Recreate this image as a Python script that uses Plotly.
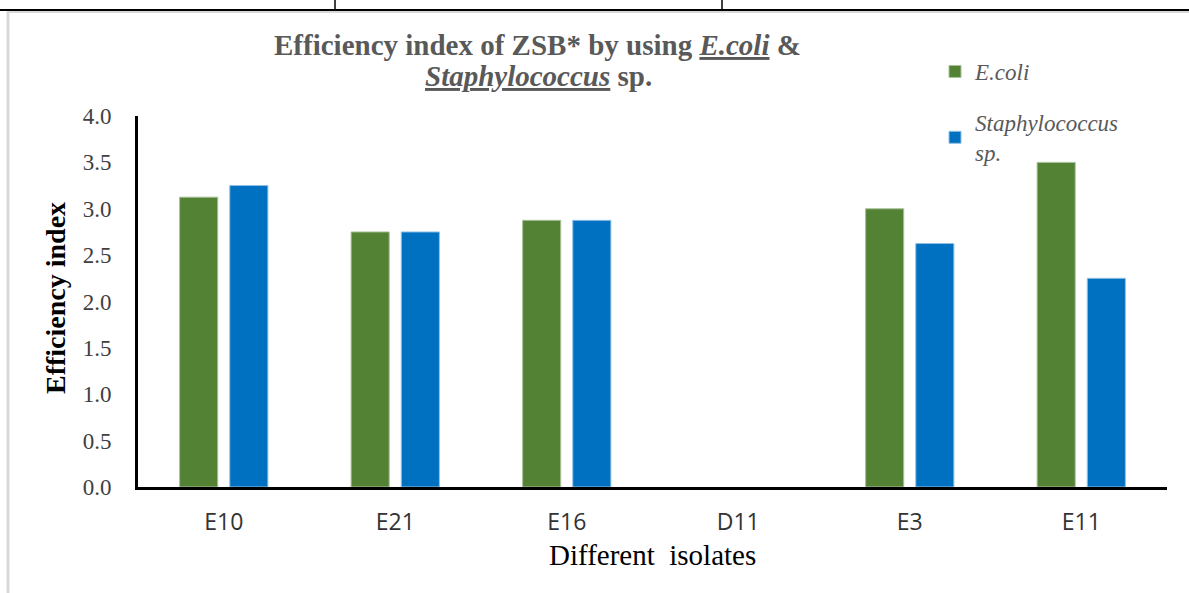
import plotly.graph_objects as go

# Data
isolates = ['E10', 'E21', 'E16', 'D11', 'E3', 'E11']
ecoli = [3.125, 2.75, 2.875, None, 3.0, 3.5]
staph = [3.25, 2.75, 2.875, None, 2.625, 2.25]
y_ticks = [0.0, 0.5, 1.0, 1.5, 2.0, 2.5, 3.0, 3.5, 4.0]

serif = 'Liberation Serif, Times New Roman, serif'
gray = '#595959'

# plot area in page pixels
L, R, T, B = 138, 1167, 116, 487
W, H = R - L, B - T


def px_x(x):
    return (x - L) / W


def px_y(y):
    return (B - y) / H


fig = go.Figure()
fig.add_trace(go.Bar(
    x=isolates, y=ecoli, name='E.coli',
    marker=dict(color='#548235', line=dict(color='#a9c19a', width=1)),
    legendgroup='a',
))
fig.add_trace(go.Bar(
    x=isolates, y=staph, name='Staphylococcus<br>sp.',
    marker=dict(color='#0070C0', line=dict(color='#8fc1e6', width=1)),
    legendgroup='b',
))

fig.update_layout(
    width=1189, height=593,
    paper_bgcolor='white', plot_bgcolor='white',
    margin=dict(l=L, r=1189 - R, t=T, b=593 - B),
    barmode='group', bargap=0.415, bargroupgap=0.24,
    legend=dict(x=px_x(935), y=px_y(50), xanchor='left', yanchor='top',
                font=dict(family=serif, size=23, color=gray, style='italic'),
                tracegroupgap=18, bgcolor='rgba(0,0,0,0)',
                itemwidth=30),
    showlegend=True,
)

# chart title, two lines
fig.add_annotation(
    text='<b>Efficiency index of ZSB* by using '
         '<span style="text-decoration:underline"><i>E.coli</i></span> &amp;</b>',
    xref='paper', yref='paper', x=px_x(537), y=px_y(45),
    xanchor='center', yanchor='middle', showarrow=False,
    font=dict(family=serif, size=29, color=gray),
)
fig.add_annotation(
    text='<b><span style="text-decoration:underline"><i>Staphylococcus</i></span> sp.</b>',
    xref='paper', yref='paper', x=px_x(538), y=px_y(76),
    xanchor='center', yanchor='middle', showarrow=False,
    font=dict(family=serif, size=29, color=gray),
)
# axis titles
fig.add_annotation(
    text='<b>Efficiency index</b>', textangle=-90,
    xref='paper', yref='paper', x=px_x(55), y=px_y(298),
    xanchor='center', yanchor='middle', showarrow=False,
    font=dict(family=serif, size=28, color='black'),
)
fig.add_annotation(
    text='Different  isolates',
    xref='paper', yref='paper', x=px_x(652), y=px_y(555),
    xanchor='center', yanchor='middle', showarrow=False,
    font=dict(family=serif, size=29, color='black'),
)

fig.update_xaxes(
    showline=True, linecolor='black', linewidth=2.5,
    showgrid=False, ticks='', ticklabelstandoff=13,
    tickfont=dict(family='Open Sans, sans-serif', size=23, color='#333333'),
)
fig.update_yaxes(
    range=[0, 4], tickvals=y_ticks, tickformat='.1f',
    showline=True, linecolor='black', linewidth=3,
    showgrid=False, zeroline=False, ticks='', ticklabelstandoff=19,
    tickfont=dict(family=serif, size=23, color='#404040'),
)

# table border lines at the top and the chart frame
fig.add_shape(type='line', xref='paper', yref='paper',
              x0=px_x(0), x1=px_x(1189), y0=px_y(10), y1=px_y(10),
              line=dict(color='black', width=2))
fig.add_shape(type='line', xref='paper', yref='paper',
              x0=px_x(7), x1=px_x(1189), y0=px_y(12), y1=px_y(12),
              line=dict(color='#d9d9d9', width=2))
for vx in [335, 722]:
    fig.add_shape(type='line', xref='paper', yref='paper',
                  x0=px_x(vx), x1=px_x(vx), y0=px_y(10), y1=px_y(0),
                  line=dict(color='black', width=1.5))
fig.add_shape(type='line', xref='paper', yref='paper',
              x0=px_x(8), x1=px_x(8), y0=px_y(593), y1=px_y(11),
              line=dict(color='#d9d9d9', width=3))

fig.write_html('out.html', config={'displayModeBar': False},
               post_script="document.body.style.margin='0';")
